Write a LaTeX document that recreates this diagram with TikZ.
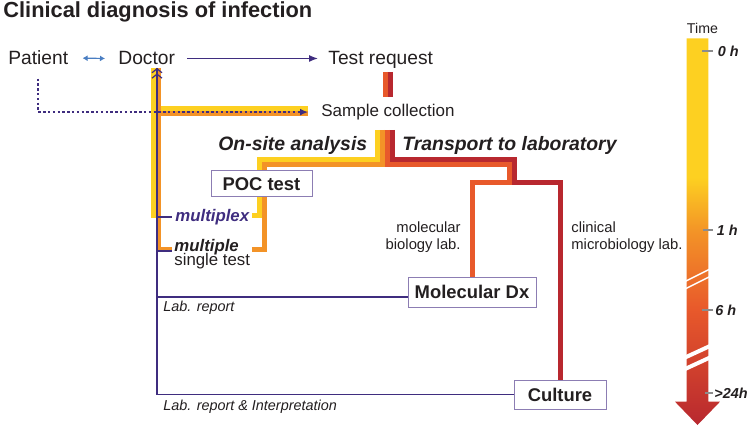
\documentclass[tikz,border=0pt]{standalone}
\usepackage{fontspec}
\setmainfont{Liberation Sans}
\usepackage{xcolor}
\usepackage{tikz}
\usetikzlibrary{arrows.meta,calc,positioning}

\definecolor{bandyellow}{HTML}{FDD021}
\definecolor{bandorange}{HTML}{F39327}
\definecolor{bandred}{HTML}{E8592B}
\definecolor{banddark}{HTML}{B8282F}
\definecolor{dxpurple}{HTML}{3F2D7F}
\definecolor{boxframe}{HTML}{8C7DB3}
\definecolor{talkblue}{HTML}{4A7EC2}
\definecolor{inkgray}{HTML}{231F20}

\pgfdeclareverticalshading{timeflow}{100bp}{color(0bp)=(banddark); color(25bp)=(banddark);
  color(40bp)=(bandred); color(50bp)=(bandorange); color(57bp)=(bandyellow); color(100bp)=(bandyellow)}

\newcommand{\fsz}[1]{\fontsize{#1}{#1}\selectfont}

\begin{document}
\begin{tikzpicture}[x=0.5pt,y=-0.5pt,>=Latex,
    every node/.style={inner sep=0pt,text=inkgray},
    band/.style={line width=2.5pt,line cap=butt,line join=miter},
    report/.style={dxpurple,line width=0.6pt},
    testbox/.style={draw=boxframe,line width=0.5pt,fill=white,font=\fsz{9.2}\bfseries},
    hourtick/.style={black!45,line width=0.6pt},
    hour/.style={anchor=west,font=\fsz{7.2}\bfseries\itshape}]
  \useasboundingbox (0,0) rectangle (749,427);

  % time scale
  \shade[shading=timeflow] (686.7,38.3) -- (708.3,38.3) -- (708.3,401.7) -- (720,401.7)
    -- (697.5,425) -- (675,401.7) -- (686.7,401.7) -- cycle;
  \draw[white,line width=0.7pt] (684,282) -- (710,269) (684,289.5) -- (710,276.5);
  \draw[white,line width=2pt] (684,358) -- (710,346) (684,369.5) -- (710,357.5);
  \node[font=\fsz{7.1}] (time) at (702.5,28) {Time};
  \foreach \name/\txt/\y/\lx/\tx in {h0/0 h/51/717.5/702, h1/1 h/230/716.5/702.5, h6/6 h/310/715/702, h24/{>24h}/393/714/705}{
    \node[hour] (\name) at (\lx,\y) {\txt};
    \draw[hourtick] (\tx,0 |- \name.west) -- (713,0 |- \name.west);
  }

  % labels
  \node[anchor=base west,font=\fsz{10.9}\bfseries] (title) at (3,17.5) {Clinical diagnosis of infection};
  \node[anchor=base west,font=\fsz{9.6}] (patient) at (8,65) {Patient};
  \node[anchor=base west,font=\fsz{9.6}] (doctor) at (118,65) {Doctor};
  \node[anchor=base west,font=\fsz{9.6}] (request) at (328,65) {Test request};
  \node[anchor=base west,font=\fsz{8.5}] (sample) at (321,116.5) {Sample collection};
  \node[anchor=base west,font=\fsz{9.7}\bfseries\itshape] (onsite) at (218,151) {On-site analysis};
  \node[anchor=base west,font=\fsz{9.7}\bfseries\itshape] (transport) at (402,151) {Transport to laboratory};
  \node[anchor=west,font=\fsz{8.4}\bfseries\itshape,text=dxpurple] (mplex) at (175,217) {multiplex};
  \node[anchor=base west,font=\fsz{8.4}\bfseries\itshape] (multi) at (174,251) {multiple};
  \node[anchor=base west,font=\fsz{8.4}] (single) at ([yshift=-7.25pt]multi.base west) {single test};
  \node[anchor=north east,align=right,font=\fontsize{7.4}{8.3}\selectfont] (mollab) at (461,221.5) {molecular\\biology lab.};
  \node[anchor=north west,align=left,font=\fontsize{7.4}{8.3}\selectfont] (clinlab) at (571,221.5) {clinical\\microbiology lab.};
  \node[anchor=base west,font=\fsz{7.2}\itshape] (rep1) at (163,311.7) {Lab. report};
  \node[anchor=base west,font=\fsz{7.2}\itshape] (rep2) at (163,410) {Lab. report \& Interpretation};
  \node[testbox,minimum width=64pt,minimum height=15pt] (moldx) at (472,292) {Molecular Dx};
  \node[testbox,minimum width=46pt,minimum height=14.5pt] (culture) at (560,394.5) {Culture};

  % colour bands
  \draw[band,bandyellow] (153.5,68) -- (153.5,218) (153.5,108.5) -- (308,108.5);
  \draw[band,bandorange] (158.5,113.5) -- (308,113.5) (158.5,68) |- (172,249.5);
  \draw[band,bandred] (385.5,72) -- (385.5,97);
  \draw[band,banddark] (390.5,72) -- (390.5,97);
  \draw[band,bandyellow] (377.5,130) |- (259.5,159.5) |- (252,215.5);
  \draw[band,bandorange] (382.5,130) |- (264.5,164.5) |- (252,249.5);
  \draw[band,bandred] (387.5,130) |- (509.5,164.5) -- (509.5,182.5) -| (moldx.north);
  \draw[band,banddark] (392.5,130) |- (514.5,159.5) -- (514.5,182.5) -| (culture.north);
  \node[testbox,minimum width=50.5pt,minimum height=13pt] (poc) at (261.5,184) {POC test};

  % flows of information
  \draw[talkblue,line width=0.6pt,{Latex[length=2.5pt,width=3pt]}-{Latex[length=2.5pt,width=3pt]}]
    ([xshift=7pt]patient.east) -- ([xshift=-6.5pt]doctor.west);
  \draw[dxpurple,line width=0.6pt,-{Latex[length=4.5pt,width=3.5pt]}]
    ([xshift=6pt]doctor.east) -- ([xshift=-5pt]doctor.east -| request.west);
  \draw[dxpurple,line width=0.8pt,dash pattern=on 1.2pt off 1.2pt,-{Latex[length=4pt,width=3.5pt]}]
    ([yshift=-6.5pt]patient.south) |- ([xshift=-6.5pt]sample.west);
  \coordinate (back) at (157,68);
  \draw[report,-{Straight Barb[length=2pt,width=5pt] Straight Barb[length=2pt,width=5pt]}] (culture.west) -| (back);
  \draw[report] ([yshift=-2.5pt]moldx.west) -| (back);
  \draw[report] (back |- mplex.west) -- ([xshift=-1.5pt]mplex.west);
  \draw[report] (back |- multi.base) -- ([xshift=-1pt]multi.base west);
\end{tikzpicture}
\end{document}
